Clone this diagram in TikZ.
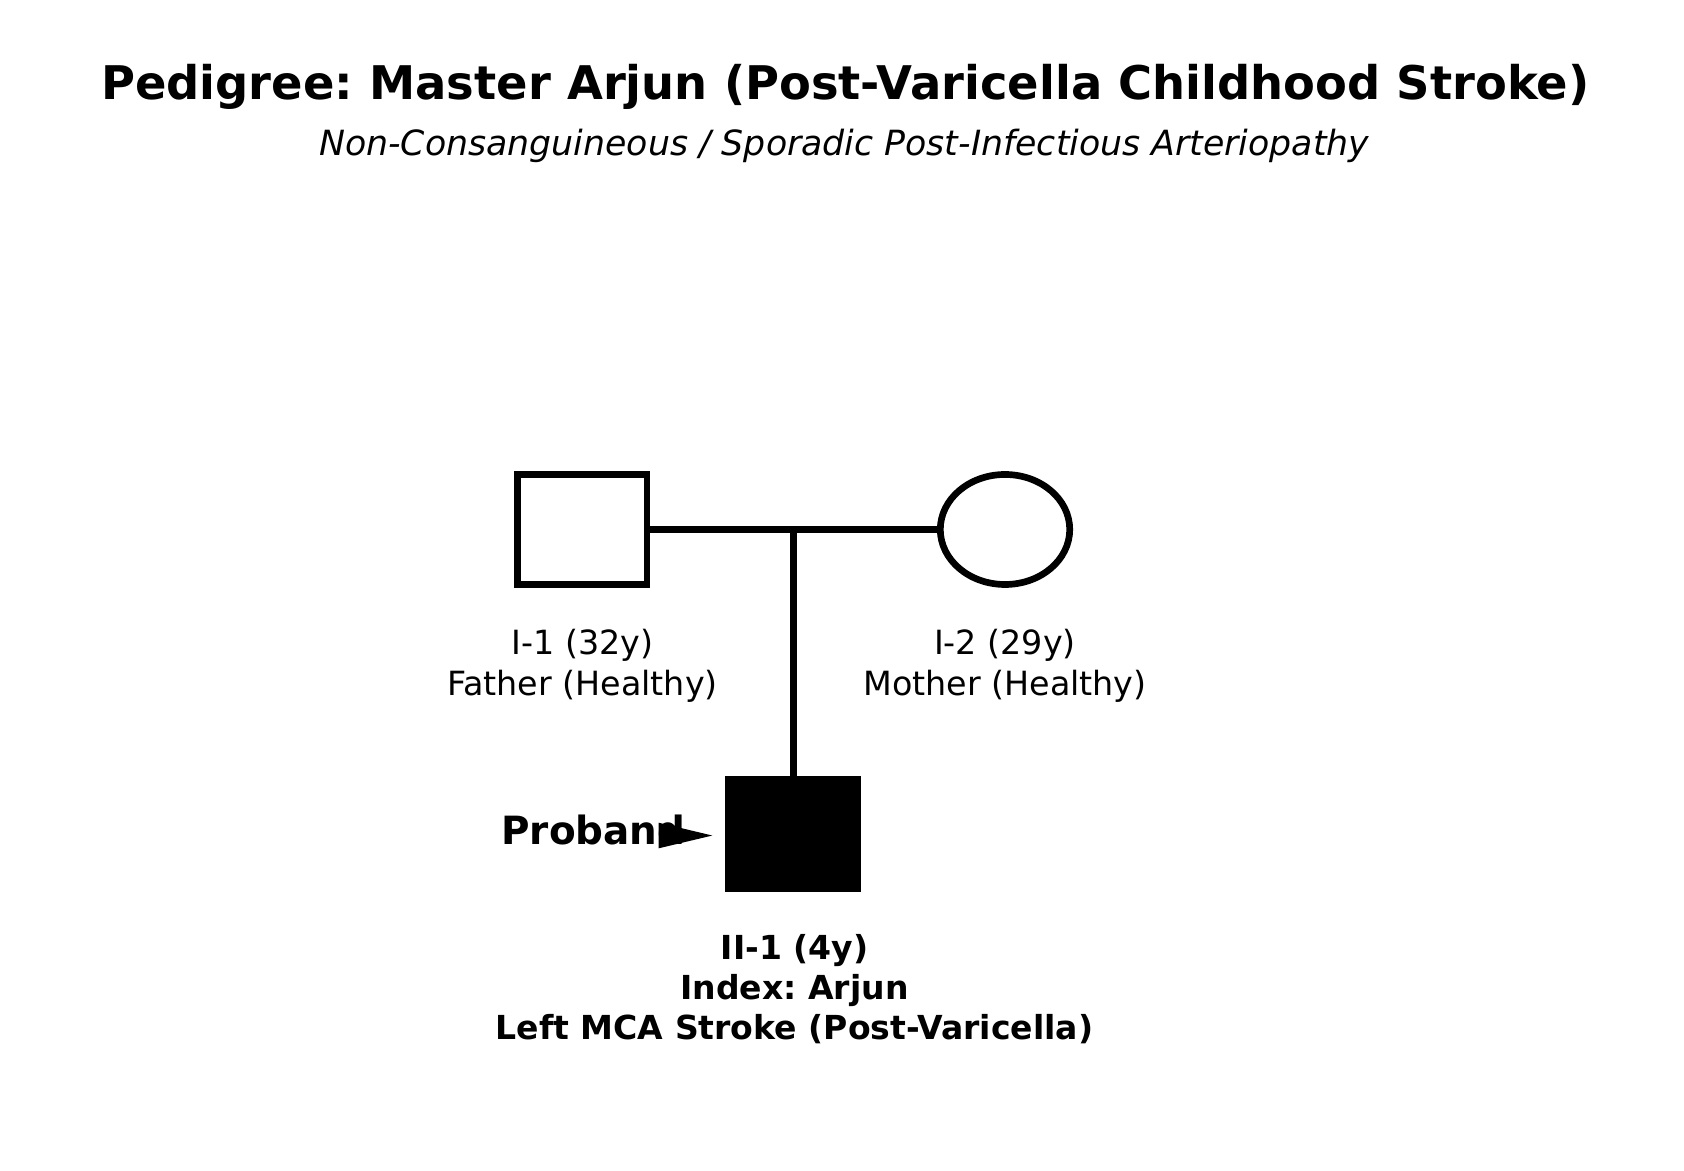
\documentclass[tikz,border=0pt]{standalone}
\usepackage{fontspec}
\setmainfont{DejaVu Sans}
\usetikzlibrary{shapes.geometric,arrows.meta}
\frenchspacing
\begin{document}
\begin{tikzpicture}[x=0.3886pt,y=-0.3886pt,
  person/.style={draw=black,line width=2.4pt,minimum width=46.6pt,minimum height=39.6pt,inner sep=0pt},
  male/.style={person,rectangle},
  female/.style={person,ellipse,minimum width=46.6pt},
  affected/.style={fill=black},
  lbl/.style={anchor=base,inner sep=0pt,font=\fontsize{12}{14.4}\selectfont},
  blbl/.style={lbl,font=\fontsize{11.9}{14.4}\selectfont\bfseries},
  link/.style={draw=black,line width=2.4pt}]
\useasboundingbox (0,0) rectangle (1560,1084);
% titles
\node[anchor=base,inner sep=0pt,font=\fontsize{16.7}{20}\selectfont\bfseries] (title) at (783,92) {Pedigree: Master Arjun (Post-Varicella Childhood Stroke)};
\node[anchor=base,inner sep=0pt,font=\fontsize{12.5}{15}\selectfont\itshape] (subtitle) at (782,144) {Non-Consanguineous / Sporadic Post-Infectious Arteriopathy};
% individuals
\node[male] (father) at (539.5,490.5) {};
\node[female] (mother) at (931,490.5) {};
\node[male,affected] (child) at (735,772.5) {};
% connectors
\coordinate (mid) at (735,490.5);
\draw[link] (father.east) -- (mother.west);
\draw[link] (mid) -- (child.north);
% labels
\node[lbl] (f1) at (539.5,606) {I-1 (32y)};
\node[lbl] (f2) at (539.5,644) {Father (Healthy)};
\node[lbl] (m1) at (931,606) {I-2 (29y)};
\node[lbl] (m2) at (931,644) {Mother (Healthy)};
\node[blbl] (c1) at (736,889) {II-1 (4y)};
\node[blbl] (c2) at (736,926) {Index: Arjun};
\node[blbl] (c3) at (736,963) {Left MCA Stroke (Post-Varicella)};
% proband
\node[anchor=base west,inner sep=0pt,font=\fontsize{14}{17}\selectfont\bfseries] (proband) at (464,782) {Proband};
\coordinate (pa) at (610,774);
\coordinate (ptip) at (660,774);
\draw[-{Triangle[length=19.4pt,width=9pt]},line width=0.8pt] (pa) -- (ptip);
\end{tikzpicture}
\end{document}
